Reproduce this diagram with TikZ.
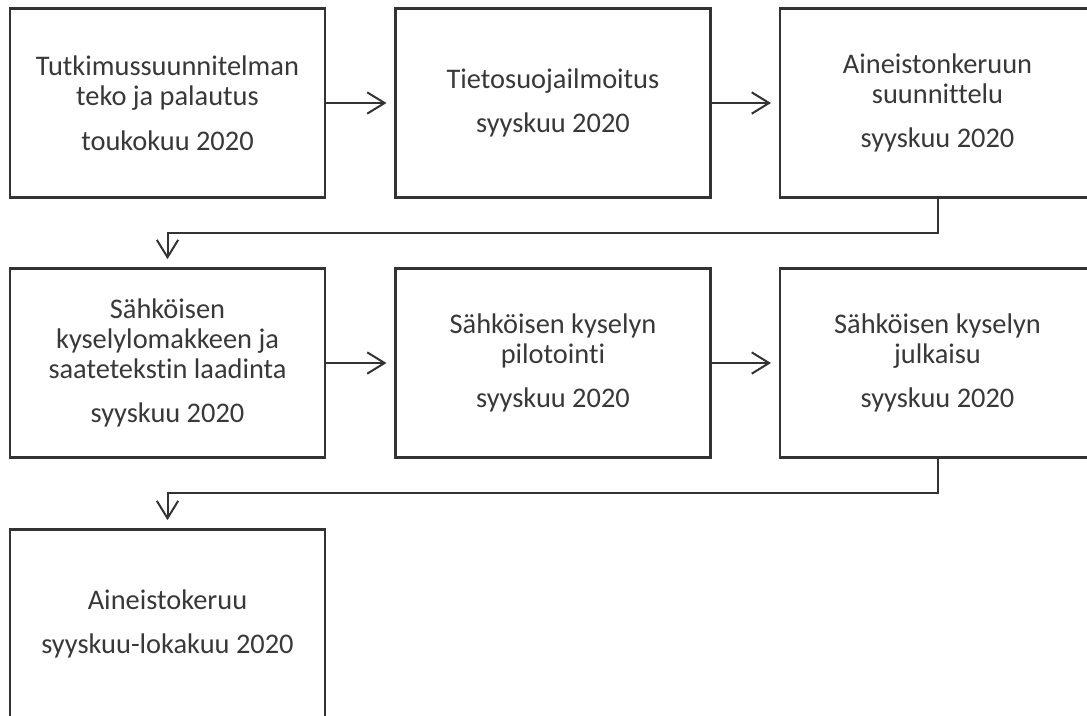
\documentclass[tikz,border=0pt]{standalone}
\usepackage{fontspec}
\setmainfont{Carlito}[Ligatures=NoCommon]
\usetikzlibrary{arrows.meta}
\definecolor{linec}{HTML}{333333}
\definecolor{textc}{HTML}{383838}
\begin{document}
\begin{tikzpicture}[x=0.75pt,y=-0.75pt,
  stepbox/.style={draw=linec, line width=1.8pt, fill=white, rectangle,
    minimum width=236pt, minimum height=142pt, inner sep=0pt,
    align=center, text=textc, font=\fontsize{21.3pt}{22.5pt}\selectfont},
  flow/.style={draw=linec, line width=1.5pt, -{Straight Barb[length=13pt,width=16pt,line width=1.5pt]}, shorten >=6pt}
]
\useasboundingbox (0,0) rectangle (1087,715);
\fill[white] (0,0) rectangle (1087,715);
\clip (0,0) rectangle (1087,715);
\node[stepbox] (b1) at (167.5,103) {Tutkimussuunnitelman\\teko ja palautus\\[11pt]toukokuu 2020};
\node[stepbox] (b2) at (553,103) {Tietosuojailmoitus\\[11pt]syyskuu 2020};
\node[stepbox] (b3) at (937.5,103) {Aineistonkeruun\\suunnittelu\\[11pt]syyskuu 2020};
\node[stepbox] (b4) at (167.5,363) {Sähköisen\\kyselylomakkeen ja\\saatetekstin laadinta\\[11pt]syyskuu 2020};
\node[stepbox] (b5) at (553,363) {Sähköisen kyselyn\\pilotointi\\[11pt]syyskuu 2020};
\node[stepbox] (b6) at (937.5,363) {Sähköisen kyselyn\\julkaisu\\[11pt]syyskuu 2020};
\node[stepbox] (b7) at (167.5,624) {Aineistokeruu\\[11pt]syyskuu-lokakuu 2020};
\draw[flow] (b1.east) -- (b2.west);
\draw[flow] (b2.east) -- (b3.west);
\draw[flow] (b4.east) -- (b5.west);
\draw[flow] (b5.east) -- (b6.west);
\coordinate (t1) at (937.5,233);
\coordinate (t2) at (937.5,493);
\draw[flow] (b3.south) -- (t1) -| (b4.north);
\draw[flow] (b6.south) -- (t2) -| (b7.north);
\end{tikzpicture}
\end{document}
